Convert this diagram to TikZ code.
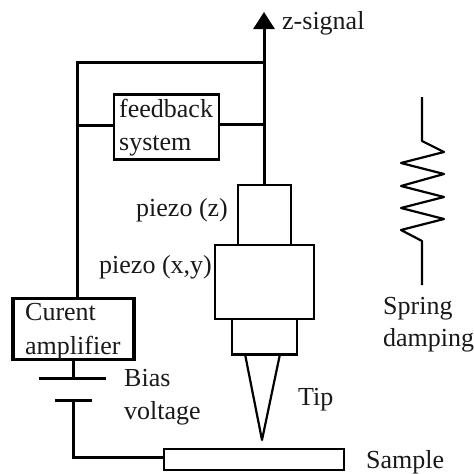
\documentclass[tikz,border=0pt]{standalone}
\usepackage{fontspec}
\setmainfont{Liberation Serif}
\usetikzlibrary{arrows.meta}
\tikzset{
  x=1pt,y=-1pt,
  connline/.style={draw=black,line width=3pt},
  slimline/.style={draw=black,line width=2.2pt},
  lab/.style={anchor=base west,inner sep=0pt,font=\fontsize{26}{26}\selectfont,text=black!90},
  part/.style={draw=black,line width=2.2pt,fill=white,inner sep=0pt,minimum width=0pt},
}
\begin{document}
\begin{tikzpicture}
\useasboundingbox (0,0) rectangle (474,474);
% parts
\node[part,minimum width=105pt,minimum height=65pt,line width=2.6pt] (fb) at (166.5,127) {};
\node[part,minimum width=121pt,minimum height=61pt,line width=3.2pt] (amp) at (73.5,329) {};
\node[part,minimum width=53pt,minimum height=60pt] (pz) at (264.5,215) {};
\node[part,minimum width=65pt,minimum height=35.5pt] (low) at (264.5,336.75) {};
\node[part,minimum width=99pt,minimum height=74pt] (pxy) at (264.5,282) {};
\node[part,minimum width=180pt,minimum height=21pt] (sample) at (254,459.5) {};
% connection points
\coordinate (topL) at (77,62);
\coordinate (topR) at (264,62);
\coordinate (ztip) at (264,12);
\coordinate (amptop) at (77,298);
\coordinate (fbL) at (77,125);
\coordinate (fbR) at (264,124);
\coordinate (pztop) at (264,185);
\coordinate (batA) at (73,378);
\coordinate (batB) at (73,400);
\coordinate (corner) at (73,457);
\coordinate (sampL) at (164,457);
% wires
\draw[connline] (amptop) -- (topL) -- (topR);
\draw[connline] (fbL) -- (fb.west |- fbL);
\draw[connline] (fb.east |- fbR) -- (fbR);
\draw[connline,-{Triangle[width=21pt,length=17pt]}] (pztop) -- (ztip);
\draw[connline] (batA |- amp.south) -- (batA);
\draw[connline] (39,378) -- (106,378);
\draw[connline] (55,400) -- (92,400);
\draw[connline] (batB) -- (corner) -- (sampL);
% tip
\draw[slimline,line join=round] (245,354) -- (262,440) -- (280,354);
% spring
\draw[slimline,line join=round] (422,97) -- (422,141) -- (444,152) -- (401,163) -- (444,174) -- (401,186) -- (444,197) -- (401,208) -- (444,219) -- (401,230) -- (422,241) -- (422,285);
% labels
\node[lab] (tz) at (282,29) {z-signal};
\node[lab] (t1) at (119,117) {feedback};
\node[lab] (t2) at (119,150) {system};
\node[lab] (t3) at (136,216) {piezo (z)};
\node[lab] (t4) at (99,273) {piezo (x,y)};
\node[lab] (t5) at (25,320) {Curent};
\node[lab] (t6) at (25,354) {amplifier};
\node[lab] (t7) at (124,386) {Bias};
\node[lab] (t8) at (124,419) {voltage};
\node[lab] (t9) at (298,405) {Tip};
\node[lab] (t10) at (366,468) {Sample};
\node[lab] (t11) at (383,314) {Spring};
\node[lab] (t12) at (383,346) {damping};
\end{tikzpicture}
\end{document}
